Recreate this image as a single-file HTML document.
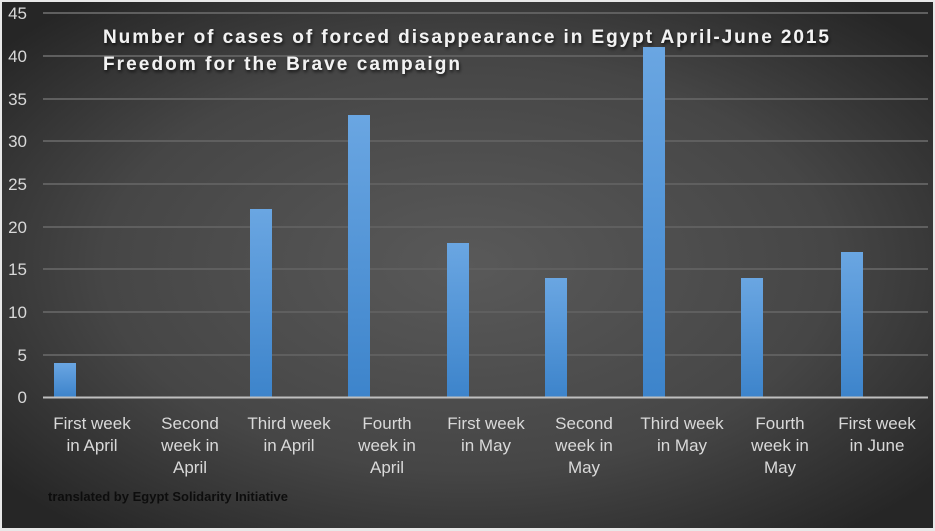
<!DOCTYPE html>
<html><head><meta charset="utf-8"><style>
html,body{margin:0;padding:0;background:#fff;}
svg{display:block;}
</style></head><body>
<svg width="935" height="531" viewBox="0 0 935 531" xmlns="http://www.w3.org/2000/svg">
<defs>
<radialGradient id="bg" cx="0.5" cy="0.5" r="0.65">
<stop offset="0" stop-color="#595959"/>
<stop offset="0.6" stop-color="#464646"/>
<stop offset="1" stop-color="#262626"/>
</radialGradient>
<linearGradient id="bar" x1="0" y1="0" x2="0" y2="1">
<stop offset="0" stop-color="#6aa6e2"/>
<stop offset="1" stop-color="#3d84cb"/>
</linearGradient>
<filter id="sh"><feDropShadow dx="1" dy="2" stdDeviation="1.5" flood-color="#000" flood-opacity="0.7"/></filter>
</defs>
<rect x="0" y="0" width="935" height="531" fill="#e8e8e8"/>
<rect x="2" y="2" width="931" height="526" fill="url(#bg)"/>
<g stroke="#5f5f5f" stroke-width="2">
<line x1="43" x2="928" y1="13" y2="13"/>
<line x1="43" x2="928" y1="56" y2="56"/>
<line x1="43" x2="928" y1="99" y2="99"/>
<line x1="43" x2="928" y1="141" y2="141"/>
<line x1="43" x2="928" y1="184" y2="184"/>
<line x1="43" x2="928" y1="227" y2="227"/>
<line x1="43" x2="928" y1="269" y2="269"/>
<line x1="43" x2="928" y1="312" y2="312"/>
<line x1="43" x2="928" y1="355" y2="355"/>
</g>
<g font-family="Liberation Sans, sans-serif" font-size="17" fill="#d9d9d9" text-anchor="end">
<text x="27" y="19">45</text><text x="27" y="62">40</text><text x="27" y="105">35</text>
<text x="27" y="147">30</text><text x="27" y="190">25</text><text x="27" y="233">20</text>
<text x="27" y="275">15</text><text x="27" y="318">10</text><text x="27" y="361">5</text>
<text x="27" y="403">0</text>
</g>
<g fill="url(#bar)">
<rect x="54" y="363" width="22" height="34"/>
<rect x="250" y="209" width="22" height="188"/>
<rect x="348" y="115" width="22" height="282"/>
<rect x="447" y="243" width="22" height="154"/>
<rect x="545" y="278" width="22" height="119"/>
<rect x="643" y="47" width="22" height="350"/>
<rect x="741" y="278" width="22" height="119"/>
<rect x="841" y="252" width="22" height="145"/>
</g>
<line x1="43" x2="928" y1="397.5" y2="397.5" stroke="#bfbfbf" stroke-width="2"/>
<g font-family="Liberation Sans, sans-serif" font-size="17" fill="#d9d9d9" text-anchor="middle">
<text x="92" y="429">First week</text><text x="92" y="451">in April</text>
<text x="190" y="429">Second</text><text x="190" y="451">week in</text><text x="190" y="473">April</text>
<text x="289" y="429">Third week</text><text x="289" y="451">in April</text>
<text x="387" y="429">Fourth</text><text x="387" y="451">week in</text><text x="387" y="473">April</text>
<text x="486" y="429">First week</text><text x="486" y="451">in May</text>
<text x="584" y="429">Second</text><text x="584" y="451">week in</text><text x="584" y="473">May</text>
<text x="682" y="429">Third week</text><text x="682" y="451">in May</text>
<text x="780" y="429">Fourth</text><text x="780" y="451">week in</text><text x="780" y="473">May</text>
<text x="877" y="429">First week</text><text x="877" y="451">in June</text>
</g>
<g font-family="Liberation Sans, sans-serif" font-size="19" font-weight="bold" fill="#f2f2f2" filter="url(#sh)">
<text x="103" y="43" textLength="726" lengthAdjust="spacing">Number of cases of forced disappearance in Egypt April-June 2015</text>
<text x="103" y="70" textLength="357" lengthAdjust="spacing">Freedom for the Brave campaign</text>
</g>
<text x="48" y="501" font-family="Liberation Sans, sans-serif" font-size="13" font-weight="bold" fill="#0d0d0d" textLength="240" lengthAdjust="spacingAndGlyphs">translated by Egypt Solidarity Initiative</text>
</svg>
</body></html>
